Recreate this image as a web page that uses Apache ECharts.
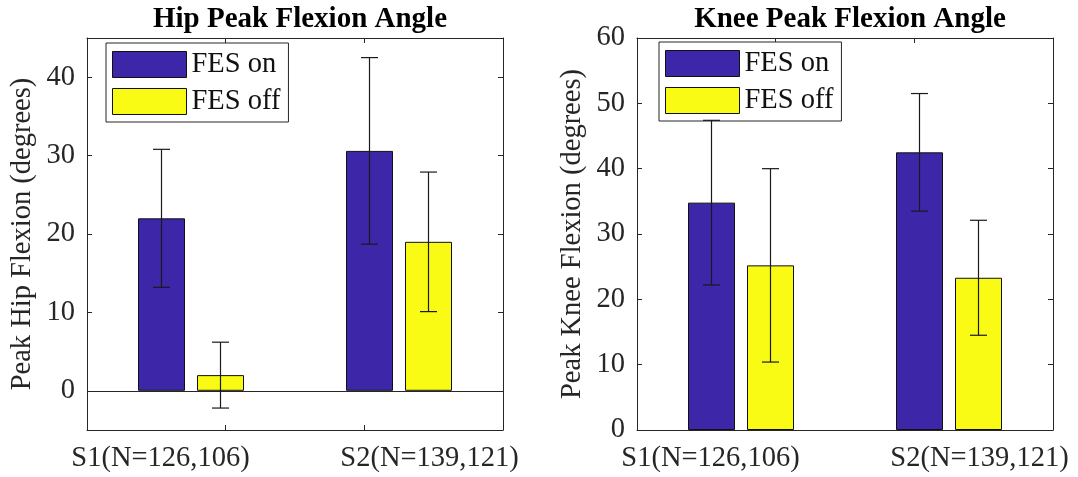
<!DOCTYPE html>
<html>
<head>
<meta charset="utf-8">
<title>Peak Flexion Angles</title>
<script src="https://cdn.jsdelivr.net/npm/echarts@6/dist/echarts.min.js"></script>
<style>
  html, body { margin: 0; padding: 0; background: #fff; }
  #chart { width: 1078px; height: 477px; }
</style>
</head>
<body>
<div id="chart"></div>
<script>
// ---- data ----
const categories = ['S1(N=126,106)', 'S2(N=139,121)'];
const seriesNames = ['FES on', 'FES off'];

// hip peak flexion (degrees): mean and standard deviation
const hipOnMean = [22.0, 30.6];
const hipOnSd = [8.8, 11.9];
const hipOffMean = [2.0, 19.0];
const hipOffSd = [4.2, 8.9];

// knee peak flexion (degrees): mean and standard deviation
const kneeOnMean = [34.8, 42.5];
const kneeOnSd = [12.6, 9.0];
const kneeOffMean = [25.2, 23.3];
const kneeOffSd = [14.8, 8.8];

const hipTicks = [0, 10, 20, 30, 40];
const kneeTicks = [0, 10, 20, 30, 40, 50, 60];

// ---- styling ----
const FONT = "'Liberation Serif', 'Times New Roman', serif";
const AXIS_COLOR = '#262626';
const ON_COLOR = '#3e26a8';
const OFF_COLOR = '#f9fb15';
const BAR_W = 47;
const BAR_GAP = 12;
const CAP_HALF = 8.5;
const FS = 28.5;
// x positions (in the 0..3 frame) where the group labels sit
const labelSlots = [0.53, 2.47];

const chart = echarts.init(document.getElementById('chart'), null, { renderer: 'canvas' });

const grids = [
  { left: 87, right: 575, top: 38, bottom: 47 },
  { left: 637, right: 25, top: 38, bottom: 47 }
];

function catAxis(g) {
  return { type: 'category', gridIndex: g, data: categories, show: false, boundaryGap: true };
}
function frameX(g, position, withLabels) {
  return {
    type: 'value', gridIndex: g, position: position, min: 0, max: 3, interval: 1,
    axisLine: { show: true, onZero: false, lineStyle: { color: AXIS_COLOR, width: 1 } },
    axisTick: { show: true, inside: true, length: 5, customValues: [1, 2], lineStyle: { color: AXIS_COLOR } },
    axisLabel: withLabels ? {
      show: true, customValues: labelSlots, margin: 14,
      fontFamily: FONT, fontSize: FS, color: AXIS_COLOR,
      formatter: function (v) { const i = labelSlots.indexOf(v); return i >= 0 ? categories[i] : ''; }
    } : { show: false },
    splitLine: { show: false }
  };
}
function frameY(g, position, min, max, ticks, name) {
  const left = position === 'left';
  return {
    type: 'value', gridIndex: g, position: position, min: min, max: max,
    name: left ? name : '', nameLocation: 'middle', nameGap: 50,
    nameTextStyle: { fontFamily: FONT, fontSize: FS, color: AXIS_COLOR },
    axisLine: { show: true, onZero: false, lineStyle: { color: AXIS_COLOR, width: 1 } },
    axisTick: { show: true, inside: true, length: 5, customValues: ticks, lineStyle: { color: AXIS_COLOR } },
    axisLabel: left ? {
      show: true, customValues: ticks, margin: 12,
      fontFamily: FONT, fontSize: FS, color: AXIS_COLOR
    } : { show: false },
    splitLine: { show: false }
  };
}

function bars(xi, yi, name, means, color, baseline) {
  const s = {
    type: 'bar', name: name, xAxisIndex: xi, yAxisIndex: yi,
    data: means, barWidth: BAR_W, barGap: (BAR_GAP / BAR_W * 100) + '%',
    itemStyle: { color: color, borderColor: '#111', borderWidth: 1 },
    emphasis: { disabled: true }, z: 2
  };
  if (baseline) {
    s.markLine = {
      silent: true, symbol: 'none', label: { show: false },
      lineStyle: { color: AXIS_COLOR, width: 1, type: 'solid' },
      emphasis: { disabled: true },
      data: [{ yAxis: 0 }]
    };
  }
  return s;
}

function errorBars(xi, yi, name, means, sds, side) {
  const shift = side * (BAR_W + BAR_GAP) / 2;
  return {
    type: 'custom', name: name, xAxisIndex: xi, yAxisIndex: yi, z: 5,
    data: means.map(function (m, i) { return [i, m, sds[i]]; }),
    encode: { x: 0, y: 1 },
    renderItem: function (params, api) {
      const i = api.value(0), m = api.value(1), sd = api.value(2);
      const hi = api.coord([i, m + sd]);
      const lo = api.coord([i, m - sd]);
      const x = hi[0] + shift;
      const st = { stroke: '#1a1a1a', lineWidth: 1.2 };
      return {
        type: 'group',
        children: [
          { type: 'line', shape: { x1: x, y1: hi[1], x2: x, y2: lo[1] }, style: st },
          { type: 'line', shape: { x1: x - CAP_HALF, y1: hi[1], x2: x + CAP_HALF, y2: hi[1] }, style: st },
          { type: 'line', shape: { x1: x - CAP_HALF, y1: lo[1], x2: x + CAP_HALF, y2: lo[1] }, style: st }
        ]
      };
    }
  };
}

function legend(left, top) {
  return {
    data: seriesNames, orient: 'vertical', left: left, top: top,
    icon: 'rect', itemWidth: 74, itemHeight: 26, itemGap: 8,
    padding: [7, 8, 6, 6],
    borderColor: AXIS_COLOR, borderWidth: 1, backgroundColor: '#fff',
    itemStyle: { borderColor: '#111', borderWidth: 1 },
    textStyle: { fontFamily: FONT, fontSize: FS, color: '#111' },
    selectedMode: false
  };
}

const titleStyle = { fontFamily: FONT, fontSize: 29, fontWeight: 'bold', color: '#000' };

const option = {
  backgroundColor: '#fff',
  animation: false,
  title: [
    { text: 'Hip Peak Flexion Angle', left: 295, top: 0, textAlign: 'center', textStyle: titleStyle },
    { text: 'Knee Peak Flexion Angle', left: 845, top: 0, textAlign: 'center', textStyle: titleStyle }
  ],
  legend: [legend(106, 43), legend(659, 42)],
  grid: grids,
  xAxis: [
    catAxis(0), frameX(0, 'bottom', true), frameX(0, 'top', false),
    catAxis(1), frameX(1, 'bottom', true), frameX(1, 'top', false)
  ],
  yAxis: [
    frameY(0, 'left', -5, 45, hipTicks, 'Peak Hip Flexion (degrees)'),
    frameY(0, 'right', -5, 45, hipTicks, ''),
    frameY(1, 'left', 0, 60, kneeTicks, 'Peak Knee Flexion (degrees)'),
    frameY(1, 'right', 0, 60, kneeTicks, '')
  ],
  series: [
    bars(0, 0, seriesNames[0], hipOnMean, ON_COLOR, true),
    bars(0, 0, seriesNames[1], hipOffMean, OFF_COLOR, false),
    errorBars(0, 0, 'hip on sd', hipOnMean, hipOnSd, -1),
    errorBars(0, 0, 'hip off sd', hipOffMean, hipOffSd, 1),
    bars(3, 2, seriesNames[0], kneeOnMean, ON_COLOR, false),
    bars(3, 2, seriesNames[1], kneeOffMean, OFF_COLOR, false),
    errorBars(3, 2, 'knee on sd', kneeOnMean, kneeOnSd, -1),
    errorBars(3, 2, 'knee off sd', kneeOffMean, kneeOffSd, 1)
  ]
};

chart.setOption(option);
</script>
</body>
</html>
